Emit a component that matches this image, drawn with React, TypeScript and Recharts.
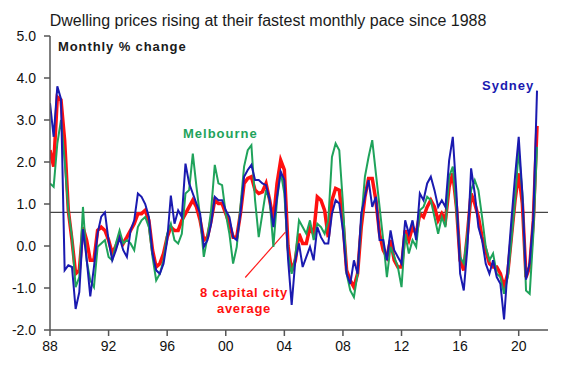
import React from "react";
import { LineChart, Line, XAxis, YAxis, ReferenceLine } from "recharts";

// Quarterly observations starting 1988 Q1 (one line = one year)
const START_YEAR = 1988;
const STEP = 0.25;

const sydney: number[] = [
  3.4, 2.6, 3.8, 3.5,
  -0.58, -0.46, -0.5, -1.5,
  -1.1, 0.4, -0.3, -1.2,
  -0.5, 0.3, 0.7, 0.8,
  0.13, -0.34, -0.1, 0.2,
  -0.1, -0.26, 0.37, 0.61,
  1.25, 1.17, 1.0, 0.69,
  -0.18, -0.58, -0.66, -0.42,
  0.13, 1.2, 0.53, 0.85,
  0.69, 1.96, 1.49, 1.25,
  1.01, 0.77, -0.02, 0.14,
  0.53, 1.17, 1.09, 1.09,
  0.85, 0.69, 0.21, 0.14,
  0.77, 1.65, 1.81, 1.93,
  1.57, 1.57, 1.49, 1.45,
  1.09, 0.45, 1.17, 1.77,
  1.57, -0.3, -1.4, -0.34,
  0.06, -0.5, -0.26, -0.02,
  -0.34, 0.45, 0.21, 0.06,
  0.06, 0.77, 1.09, 1.01,
  0.37, -0.66, -0.9, -0.34,
  -0.66, 0.77, 1.17, 1.57,
  0.93, 1.17, 0.14, 0.14,
  -0.34, 0.37, -0.1, -0.26,
  -0.42, 0.61, 0.29, 0.61,
  0.14, 1.25, 1.09, 1.49,
  1.65, 1.33, 0.93, 1.09,
  0.93, 2.04, 2.6, 1.25,
  -0.66, -1.06, -0.02, 1.85,
  1.25, 0.45, 0.14, -0.42,
  -0.66, -0.34, -0.74, -0.9,
  -1.75, -0.5, 0.61, 1.65,
  2.6, 1.25, -0.8, -0.4,
  0.69, 3.7,
];

const capitals: number[] = [
  2.28, 1.89, 3.55, 3.48,
  2.52, 0.85, 0.14, -0.66,
  -0.58, 0.45, 0.14, -0.34,
  -0.34, 0.37, 0.45, 0.37,
  0.14, -0.18, 0.0, 0.21,
  0.06, 0.21, 0.37, 0.53,
  0.77, 0.77, 0.85, 0.61,
  -0.1, -0.5, -0.42, -0.18,
  0.21, 0.45, 0.37, 0.37,
  0.61, 0.77, 0.93, 1.09,
  0.93, 0.61, 0.14, 0.21,
  0.61, 1.09, 1.01, 1.01,
  0.77, 0.53, 0.21, 0.21,
  0.77, 1.49, 1.61, 1.65,
  1.33, 1.25, 1.29, 1.49,
  1.09, 0.61, 1.49, 2.04,
  1.81, 0.0, -0.6, -0.34,
  0.29, 0.06, 0.06, 0.45,
  0.29, 1.17, 1.09, 0.85,
  0.21, 1.09, 1.37, 1.33,
  0.61, -0.58, -0.82, -0.98,
  -0.66, 0.45, 1.17, 1.61,
  1.61, 1.09, 0.29, -0.1,
  -0.26, 0.14, -0.34, -0.5,
  -0.5, 0.37, 0.14, 0.45,
  0.29, 0.77, 0.69, 0.93,
  1.09, 0.93, 0.61, 0.77,
  0.61, 1.41, 1.73, 0.93,
  -0.34, -0.58, 0.29, 1.25,
  1.01, 0.69, 0.21, -0.1,
  -0.42, -0.5, -0.5, -0.66,
  -0.98, -0.66, 0.21, 1.09,
  1.73, 1.01, -0.74, -0.5,
  0.61, 2.86,
];

const melbourne: number[] = [
  1.49, 1.41, 2.44, 3.0,
  2.04, 0.85, 0.21, -0.98,
  -0.74, 0.93, -0.34, -0.82,
  -0.98, -0.02, 0.06, 0.14,
  -0.26, -0.34, 0.06, 0.37,
  0.06, 0.14, 0.06, -0.1,
  0.45, 0.61, 0.69, 0.45,
  -0.26, -0.82, -0.66, -0.34,
  0.29, 0.53, 0.14, 0.06,
  0.29, 1.25, 1.33, 2.2,
  1.41, 0.69, -0.26, 0.21,
  0.85, 1.93, 1.49, 1.45,
  0.77, 0.29, -0.42, -0.02,
  0.93, 1.89, 2.28, 2.4,
  1.09, 0.21, 0.77, 1.33,
  1.09, -0.02, 1.09, 1.77,
  1.25, -0.18, -0.66, -0.26,
  0.61, 0.45, 0.29, 0.61,
  0.14, 0.53, 0.45, 0.29,
  0.61, 2.12, 2.44, 2.28,
  1.01, -0.66, -1.06, -1.22,
  -0.66, 0.61, 1.65, 2.12,
  2.52, 1.73, 0.93, 0.14,
  -0.74, -0.02, -0.26, -0.5,
  -0.98, 0.29, -0.18, 0.14,
  -0.02, 0.85, 0.93, 1.17,
  1.09, 0.69, 0.29, 0.69,
  0.45, 1.65, 1.89, 0.85,
  -0.26, -0.42, 0.29, 1.33,
  1.57, 1.33, 0.69, -0.02,
  -0.34, -0.18, -0.66, -0.74,
  -1.14, -0.74, 0.14, 1.09,
  2.28, 1.25, -1.06, -1.14,
  0.29, 2.36,
];

const xTicks = [1988, 1992, 1996, 2000, 2004, 2008, 2012, 2016, 2020];
const yTicks = [-2, -1, 0, 1, 2, 3, 4, 5];
const LONG_RUN_AVG = 0.8;

const TITLE = "Dwelling prices rising at their fastest monthly pace since 1988";

const data = sydney.map((v, i) => ({
  t: START_YEAR + i * STEP,
  sydney: v,
  capitals: capitals[i],
  melbourne: melbourne[i],
}));

const FONT = "'Liberation Sans', Arial, Helvetica, sans-serif";
const AXIS = "#555555";

export default function App() {
  return (
    <div style={{ position: "relative", width: 554, height: 349, fontFamily: FONT }}>
      <LineChart
        width={554}
        height={349}
        data={data}
        margin={{ top: 28, right: 14, bottom: 0, left: 0 }}
      >
        <XAxis
          dataKey="t"
          type="number"
          domain={[1988, 2022]}
          ticks={xTicks}
          tickFormatter={(v: number) => String(v % 100).padStart(2, "0")}
          height={27}
          tickSize={6}
          tickMargin={5}
          stroke={AXIS}
          strokeWidth={1.5}
          tick={{ fill: "#111", fontSize: 14, fontFamily: FONT }}
          allowDataOverflow
        />
        <XAxis
          xAxisId="top"
          orientation="top"
          dataKey="t"
          type="number"
          domain={[1988, 2022]}
          height={0}
          tick={false}
          tickLine={false}
          stroke={AXIS}
          strokeWidth={1.5}
        />
        <YAxis
          type="number"
          domain={[-2, 5]}
          ticks={yTicks}
          tickFormatter={(v: number) => v.toFixed(1)}
          width={42}
          tickSize={6}
          tickMargin={8}
          stroke={AXIS}
          strokeWidth={1.5}
          tick={{ fill: "#111", fontSize: 14, fontFamily: FONT }}
          allowDataOverflow
        />
        <YAxis
          yAxisId="right"
          orientation="right"
          domain={[-2, 5]}
          width={0}
          tick={false}
          tickLine={false}
          stroke={AXIS}
          strokeWidth={1.5}
        />
        <ReferenceLine y={LONG_RUN_AVG} stroke="#444" strokeWidth={1.2} />
        <ReferenceLine
          segment={[
            { x: 2001.33, y: -0.75 },
            { x: 2004.07, y: 0.33 },
          ]}
          stroke="#ff1a1a"
          strokeWidth={1.2}
        />
        <Line
          type="linear"
          dataKey="capitals"
          stroke="#ff1010"
          strokeWidth={3.5}
          dot={false}
          isAnimationActive={false}
        />
        <Line
          type="linear"
          dataKey="melbourne"
          stroke="#1fa35b"
          strokeWidth={2}
          dot={false}
          isAnimationActive={false}
        />
        <Line
          type="linear"
          dataKey="sydney"
          stroke="#1a1ab0"
          strokeWidth={2}
          dot={false}
          isAnimationActive={false}
        />
      </LineChart>

      <div
        style={{
          position: "absolute",
          left: 0,
          top: 4,
          width: 520,
          textAlign: "center",
          fontSize: 16,
          lineHeight: "18px",
          color: "#1a1a1a",
          whiteSpace: "nowrap",
        }}
      >
        {TITLE}
      </div>
      <div
        style={{
          position: "absolute",
          left: 50,
          top: 31,
          fontSize: 13,
          fontWeight: "bold",
          lineHeight: "16px",
          color: "#1a1a1a",
          letterSpacing: 0.9,
          whiteSpace: "nowrap",
        }}
      >
        Monthly % change
      </div>
      <div
        style={{
          position: "absolute",
          left: 175,
          top: 118,
          fontSize: 13,
          fontWeight: "bold",
          lineHeight: "16px",
          color: "#1fa35b",
          letterSpacing: 1.0,
          whiteSpace: "nowrap",
        }}
      >
        Melbourne
      </div>
      <div
        style={{
          position: "absolute",
          left: 474,
          top: 70,
          fontSize: 13,
          fontWeight: "bold",
          lineHeight: "16px",
          color: "#1a1ab0",
          letterSpacing: 1.0,
          whiteSpace: "nowrap",
        }}
      >
        Sydney
      </div>
      <div
        style={{
          position: "absolute",
          left: 176,
          top: 277,
          width: 120,
          textAlign: "center",
          fontSize: 13,
          fontWeight: "bold",
          lineHeight: "16px",
          color: "#ff1010",
          letterSpacing: 0.7,
        }}
      >
        8 capital city
        <br />
        average
      </div>
    </div>
  );
}
